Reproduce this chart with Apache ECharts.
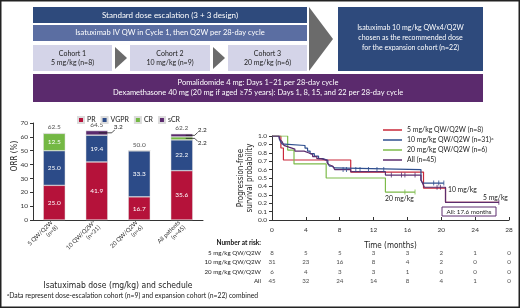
<!DOCTYPE html>
<html lang="en">
<head>
  <meta charset="UTF-8">
  <title>Isatuximab study</title>
  <style>
    body { margin: 0; background: #fff; }
  </style>
</head>
<body>
  <div id="main" style="width:520px;height:308px;"></div>
</body>
<script src="https://cdn.jsdelivr.net/npm/echarts@6/dist/echarts.min.js"></script>
<script>
  // ORR bar chart
  var barCategories = ['5 QW/Q2W\n(n=8)', '10 QW/Q2W{sup|a}\n(n=31)', '20 QW/Q2W\n(n=6)', 'All patients\n(n=45)'];
  var prValues = [25.0, 41.9, 16.7, 35.6];
  var vgprValues = [25.0, 19.4, 33.3, 22.2];
  var crValues = [12.5, 0, 0, 2.2];
  var scrValues = [0, 3.2, 0, 2.2];
  var orrTotals = [62.5, 64.5, 50.0, 62.2];

  // PFS curves: [time (months), survival] steps
  var pfs5 = [[0, 1], [1.05, 0.857], [1.35, 0.714], [9.3, 0.571], [17.9, 0.38], [20.5, 0.21], [26.8, 0.21]];
  var pfs10 = [[0, 1], [0.85, 0.968], [1.0, 0.935], [1.2, 0.903], [1.5, 0.887], [3.9, 0.855], [4.2, 0.82],
    [4.5, 0.79], [5.0, 0.76], [5.5, 0.73], [6.0, 0.71], [6.6, 0.67], [6.8, 0.64], [7.1, 0.62], [7.4, 0.60],
    [17.6, 0.47], [17.8, 0.44], [20.3, 0.44]];
  var pfs20 = [[0, 1], [1.85, 0.833], [2.6, 0.667], [6.4, 0.5], [13.4, 0.333], [16.9, 0.333]];
  var pfsAll = [[0, 1], [0.8, 0.978], [0.95, 0.956], [1.05, 0.933], [1.2, 0.911], [1.4, 0.889], [1.6, 0.867],
    [2.0, 0.844], [2.7, 0.82], [3.8, 0.80], [4.3, 0.78], [4.8, 0.755], [5.3, 0.73], [5.8, 0.71], [6.5, 0.685],
    [6.7, 0.66], [6.9, 0.64], [7.2, 0.62], [7.4, 0.60], [9.3, 0.575], [13.4, 0.535], [17.6, 0.48], [17.8, 0.435],
    [18.0, 0.39], [20.5, 0.21], [26.8, 0.21]];
  // censored marks
  var cens10 = [[8.4, 0.60], [8.8, 0.60], [9.9, 0.60], [10.4, 0.60], [11.4, 0.60], [12.4, 0.60], [13.2, 0.60],
    [19.1, 0.44], [19.7, 0.44], [20.3, 0.44]];
  var cens20 = [[15.7, 0.333], [16.9, 0.333]];
  var censAll = [[14.1, 0.535], [15.3, 0.535], [15.7, 0.535], [16.9, 0.535], [19.5, 0.39], [19.9, 0.39], [26.8, 0.21]];

  // number at risk
  var riskTimes = [0, 4, 8, 12, 16, 20, 24, 28];
  var riskRows = ['5 mg/kg QW/Q2W', '10 mg/kg QW/Q2W', '20 mg/kg QW/Q2W', 'All'];
  var risk5 = [8, 5, 5, 3, 3, 2, 1, 0];
  var risk10 = [31, 23, 16, 8, 4, 2, 0, 0];
  var risk20 = [6, 4, 3, 3, 1, 0, 0, 0];
  var riskAll = [45, 32, 24, 14, 8, 4, 1, 0];

  var FONT = 'Lato';
  var NARROW = "'Liberation Sans Narrow', 'DejaVu Sans Condensed', Lato";
  var RED = '#b5123a', BLUE = '#2c4b88', GREEN = '#74b844', PURPLE = '#5b2a6e';
  var KM_RED = '#c9283a', KM_BLUE = '#2f4f8f', KM_GREEN = '#7dbb4a', KM_PURPLE = '#5c2d6e';

  var riskData = [];
  [risk5, risk10, risk20, riskAll].forEach(function (row, r) {
    row.forEach(function (n, i) {
      riskData.push([riskTimes[i], r, n]);
    });
  });

  function txt(id, x, y, text, size, color, align, extra) {
    var st = {
      text: text, x: x, y: y, fill: color || '#222', fontSize: size, fontFamily: FONT,
      textAlign: align || 'center', textVerticalAlign: 'middle'
    };
    for (var k in extra) st[k] = extra[k];
    return { type: 'text', id: id, z: 10, style: st };
  }
  function box(id, x, y, w, h, fill) {
    return { type: 'rect', id: id, shape: { x: x, y: y, width: w, height: h }, style: { fill: fill } };
  }

  var graphics = [
    { type: 'rect', id: 'frame', shape: { x: 0.75, y: 0.75, width: 518.5, height: 306.5 },
      style: { fill: 'none', stroke: '#222', lineWidth: 1.5 } },
    box('b1', 33, 7, 274, 16, '#2e4a7c'),
    txt('t1', 170, 15, 'Standard dose escalation (3 + 3 design)', 8, '#fff'),
    box('b2', 33, 25, 274, 16, '#5b6ea2'),
    txt('t2', 170, 33, 'Isatuximab IV QW in Cycle 1, then Q2W per 28-day cycle', 7.5, '#fff'),
    box('c1', 33, 45, 79, 26, '#d4d4e8'),
    txt('tc1', 72.5, 58, 'Cohort 1\n5 mg/kg (n=8)', 7, '#222', 'center', { lineHeight: 9 }),
    box('c2', 130, 45, 80, 26, '#d4d4e8'),
    txt('tc2', 170, 58, 'Cohort 2\n10 mg/kg (n=9)', 7, '#222', 'center', { lineHeight: 9 }),
    box('c3', 228, 45, 79, 26, '#d4d4e8'),
    txt('tc3', 267.5, 58, 'Cohort 3\n20 mg/kg (n=6)', 7, '#222', 'center', { lineHeight: 9 }),
    { type: 'polygon', id: 'a1', shape: { points: [[115, 47], [127, 58], [115, 69]] }, style: { fill: '#6b6b6b' } },
    { type: 'polygon', id: 'a2', shape: { points: [[213, 47], [225, 58], [213, 69]] }, style: { fill: '#6b6b6b' } },
    { type: 'polygon', id: 'a3', shape: { points: [[309, 7], [333, 39], [309, 71]] }, style: { fill: '#6b6b6b' } },
    box('b3', 338, 7, 145, 64, '#2e4a7c'),
    txt('t3', 410.5, 38, 'Isatuximab 10 mg/kg QWx4/Q2W\nchosen as the recommended dose\nfor the expansion cohort (n=22)', 7, '#fff', 'center', { lineHeight: 10 }),
    box('b4', 33, 74, 450, 28, '#5b2a6d'),
    txt('t4', 258, 88, 'Pomalidomide 4 mg: Days 1\u201321 per 28-day cycle\nDexamethasone 40 mg (20 mg if aged \u226575 years): Days 1, 8, 15, and 22 per 28-day cycle', 7.5, '#fff', 'center', { lineHeight: 10 }),
    // bar chart y name
    { type: 'text', id: 'orrName', x: 15, y: 156, rotation: Math.PI / 2, z: 10,
      style: { text: 'ORR (%)', fontSize: 8, fontFamily: NARROW, fill: '#222', textAlign: 'center', textVerticalAlign: 'middle' } },
    // KM annotations
    txt('l10', 448, 190, '10 mg/kg', 6.8, '#222', 'left'),
    txt('l20', 385, 199, '20 mg/kg', 6.8, '#222', 'left'),
    txt('l5', 483, 198, '5 mg/kg', 6.8, '#222', 'left'),
    { type: 'rect', id: 'medBox', shape: { x: 442, y: 207, width: 54, height: 9 }, z: 9,
      style: { fill: '#fff', stroke: KM_PURPLE, lineWidth: 1 } },
    txt('med', 469, 211.5, 'All: 17.6 months', 6.3, '#222'),
    txt('nar', 261, 243, 'Number at risk:', 6.5, '#111', 'right', { fontWeight: 'bold' }),
    { type: 'text', id: 'foot', x: 7, y: 296, z: 10,
      style: { text: '{sup|a}Data represent dose-escalation cohort (n=9) and expansion cohort (n=22) combined',
        fontSize: 6.8, fontFamily: FONT, fill: '#222', textVerticalAlign: 'middle',
        rich: { sup: { fontSize: 4.5, verticalAlign: 'top', fontFamily: FONT, fill: '#222' } } } }
  ];

  function censSeries(name, data, color) {
    return {
      name: name + ' censored', type: 'scatter', xAxisIndex: 1, yAxisIndex: 1, data: data,
      symbol: 'rect', symbolSize: [1, 5], itemStyle: { color: color }, silent: true, z: 3
    };
  }
  function kmSeries(name, data, color) {
    return {
      name: name, type: 'line', step: 'end', xAxisIndex: 1, yAxisIndex: 1, data: data,
      showSymbol: false, symbol: 'none', lineStyle: { color: color, width: 1.2 }, itemStyle: { color: color }
    };
  }
  function barLabel(v) {
    return v.value >= 5 ? v.value.toFixed(1) : '';
  }
  function stackSeries(name, data, color) {
    return {
      name: name, type: 'bar', stack: 'orr', barWidth: 22, data: data,
      itemStyle: { color: color, borderColor: '#dcdcdc', borderWidth: 0.5 },
      label: { show: true, position: 'inside', color: '#fff', fontSize: 6.5, fontFamily: FONT, formatter: barLabel }
    };
  }

  var axisLine = { lineStyle: { color: '#333', width: 1 } };

  var myChart = echarts.init(document.getElementById('main'));
  myChart.setOption({
    animation: false,
    textStyle: { fontFamily: FONT },
    grid: [
      { left: 33, top: 123, width: 170, height: 97 },
      { left: 272, top: 136, width: 237, height: 84 },
      { left: 272, top: 248, width: 237, height: 38 }
    ],
    legend: [
      {
        data: ['PR', 'VGPR', 'CR', 'sCR'], left: 72, top: 111, icon: 'rect', itemWidth: 6, itemHeight: 6,
        itemGap: 5, textStyle: { fontSize: 7, color: '#222', fontFamily: FONT, padding: [0, 0, 0, -2] }
      },
      {
        data: ['5 mg/kg QW/Q2W (n=8)', '10 mg/kg QW/Q2W (n=31)', '20 mg/kg QW/Q2W (n=6)', 'All (n=45)'],
        orient: 'vertical', left: 378, top: 121, icon: 'rect', itemWidth: 19, itemHeight: 1.5, itemGap: 2,
        formatter: function (n) { return n.indexOf('n=31') > 0 ? n + '{sup|a}' : n; },
        textStyle: { fontSize: 6.9, color: '#222', lineHeight: 8, fontFamily: FONT,
          rich: { sup: { fontSize: 4.5, verticalAlign: 'top', fontFamily: FONT } } }
      }
    ],
    xAxis: [
      {
        type: 'category', gridIndex: 0, data: barCategories, axisLine: axisLine,
        axisTick: { length: 3, lineStyle: { color: '#333' } },
        axisLabel: { rotate: 45, interval: 0, fontSize: 6, color: '#333', margin: 4, lineHeight: 7,
          rich: { sup: { fontSize: 4, verticalAlign: 'top' } } },
        name: 'Isatuximab dose (mg/kg) and schedule', nameLocation: 'middle', nameGap: 61,
        nameTextStyle: { fontSize: 8.5, fontFamily: NARROW, color: '#222' }
      },
      {
        type: 'value', gridIndex: 1, min: 0, max: 28, interval: 4, splitLine: { show: false }, axisLine: axisLine,
        axisTick: { inside: true, length: 3, lineStyle: { color: '#333' } },
        axisLabel: { fontSize: 6.5, color: '#333', margin: 6 },
        name: 'Time (months)', nameLocation: 'middle', nameGap: 22,
        nameTextStyle: { fontSize: 8, fontFamily: NARROW, color: '#222' }
      },
      { type: 'value', gridIndex: 2, min: 0, max: 28, show: false }
    ],
    yAxis: [
      {
        type: 'value', gridIndex: 0, min: 0, max: 70, interval: 10, splitLine: { show: false },
        axisLine: { show: true, lineStyle: { color: '#333' } },
        axisTick: { show: true, length: 3, lineStyle: { color: '#333' } },
        axisLabel: { fontSize: 6.5, color: '#333', margin: 5 }
      },
      {
        type: 'value', gridIndex: 1, min: 0, max: 1, interval: 0.1, splitLine: { show: false },
        axisLine: { show: true, lineStyle: { color: '#333' } },
        axisTick: { show: true, length: 3, lineStyle: { color: '#333' } },
        axisLabel: { fontSize: 6.5, color: '#333', margin: 5, formatter: function (v) { return v.toFixed(1); } },
        name: 'Progression-free\nsurvival probability', nameLocation: 'middle', nameGap: 17,
        nameTextStyle: { fontSize: 8, fontFamily: NARROW, color: '#222', lineHeight: 9 }
      },
      {
        type: 'category', gridIndex: 2, data: riskRows, inverse: true,
        axisLine: { show: false }, axisTick: { show: false },
        axisLabel: { fontSize: 6.2, color: '#222', margin: 11 }
      }
    ],
    series: [
      stackSeries('PR', prValues, RED),
      stackSeries('VGPR', vgprValues, BLUE),
      stackSeries('CR', crValues, GREEN),
      stackSeries('sCR', scrValues, PURPLE),
      {
        name: 'ORR', type: 'scatter', data: orrTotals, symbolSize: 1, itemStyle: { color: 'rgba(0,0,0,0)' },
        label: { show: true, position: 'top', distance: 2, fontSize: 6.5, color: '#222',
          formatter: function (p) { return p.value.toFixed(1); } }, silent: true
      },
      kmSeries('5 mg/kg QW/Q2W (n=8)', pfs5, KM_RED),
      kmSeries('20 mg/kg QW/Q2W (n=6)', pfs20, KM_GREEN),
      kmSeries('10 mg/kg QW/Q2W (n=31)', pfs10, KM_BLUE),
      kmSeries('All (n=45)', pfsAll, KM_PURPLE),
      censSeries('10', cens10, KM_BLUE),
      censSeries('20', cens20, KM_GREEN),
      censSeries('All', censAll, KM_PURPLE),
      {
        name: 'risk', type: 'scatter', xAxisIndex: 2, yAxisIndex: 2, data: riskData, symbolSize: 1,
        itemStyle: { color: 'rgba(0,0,0,0)' }, silent: true,
        label: { show: true, position: 'inside', fontSize: 6.2, color: '#222',
          formatter: function (p) { return p.value[2]; } }
      }
    ],
    graphic: { elements: graphics }
  });

  // leader lines for the small sCR / CR segments
  function px(cat, val) {
    return myChart.convertToPixel({ xAxisIndex: 0, yAxisIndex: 0 }, [cat, val]);
  }
  var extra = [];
  var lineStyle = { stroke: '#222', lineWidth: 0.8, fill: 'none' };
  // bar 2 sCR
  var p2 = px(1, prValues[1] + vgprValues[1] + scrValues[1] / 2);
  extra.push({ type: 'polyline', id: 'ld1', z: 10, shape: { points: [[p2[0] + 2, p2[1]], [p2[0] + 15, p2[1]], [p2[0] + 18, p2[1] - 3]] }, style: lineStyle });
  extra.push(txt('ll1', p2[0] + 17, p2[1] - 6, scrValues[1].toFixed(1), 6.5, '#222', 'left'));
  // bar 4 sCR and CR
  var p4s = px(3, prValues[3] + vgprValues[3] + crValues[3] + scrValues[3] / 2);
  var p4c = px(3, prValues[3] + vgprValues[3] + crValues[3] / 2);
  extra.push({ type: 'polyline', id: 'ld2', z: 10, shape: { points: [[p4s[0] + 4, p4s[1]], [p4s[0] + 13, p4s[1]], [p4s[0] + 16, p4s[1] - 3]] }, style: lineStyle });
  extra.push({ type: 'polyline', id: 'ld3', z: 10, shape: { points: [[p4c[0] + 4, p4c[1]], [p4c[0] + 13, p4c[1]], [p4c[0] + 16, p4c[1] + 3]] }, style: lineStyle });
  extra.push(txt('ll2', p4s[0] + 16, p4s[1] - 5, scrValues[3].toFixed(1), 6.5, '#222', 'left'));
  extra.push(txt('ll3', p4c[0] + 16, p4c[1] + 5, crValues[3].toFixed(1), 6.5, '#222', 'left'));
  myChart.setOption({ graphic: { elements: extra } });
</script>
</html>
